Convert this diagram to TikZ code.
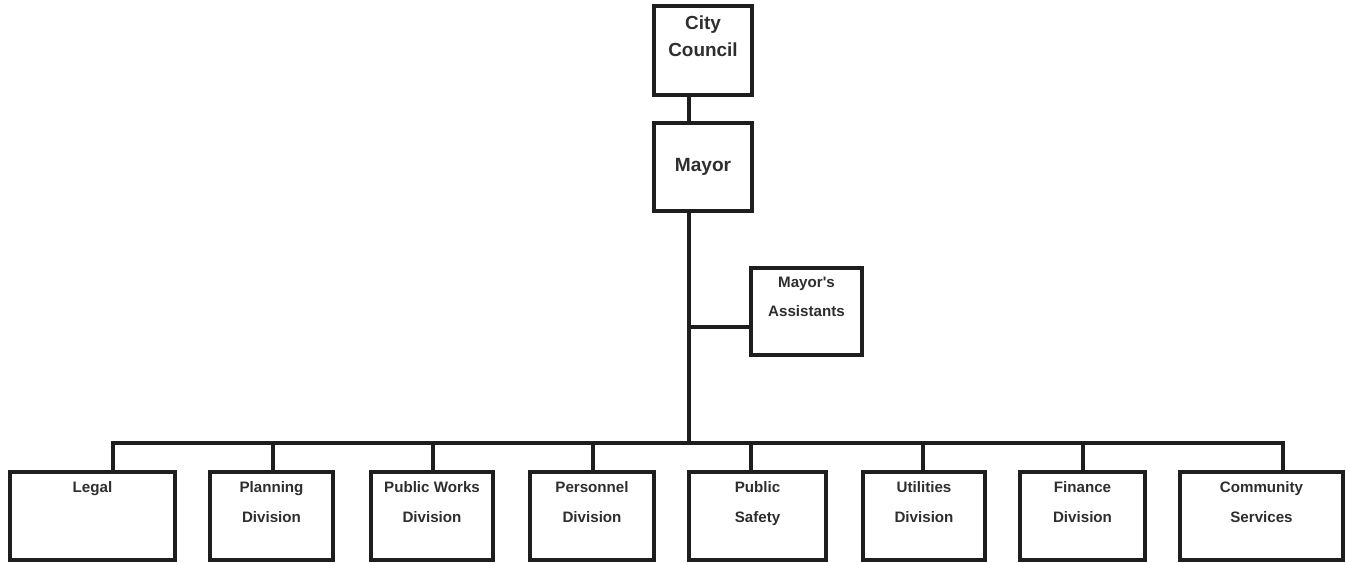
\documentclass[tikz,border=0pt]{standalone}
\usepackage{fontspec}
\setmainfont{Liberation Sans}
\usetikzlibrary{calc}
\definecolor{inkline}{HTML}{1E1E1E}
\definecolor{inktext}{HTML}{2E2E2E}
\begin{document}
\begin{tikzpicture}[x=1bp,y=-1bp,line width=3.2bp,line cap=rect,
                        box/.style={draw=inkline,inner sep=0pt,minimum height=88bp,
                            text=inktext,font=\bfseries\fontsize{19.2}{27}\selectfont},
                        toplbl/.style={anchor=north,inner sep=0pt,yshift=-9.5bp,align=center,
                            text=inktext,font=\bfseries\fontsize{19}{27}\selectfont},
                        sublbl/.style={anchor=north,inner sep=0pt,yshift=-9.5bp,align=center,
                            text=inktext,font=\bfseries\fontsize{15.2}{30.5}\selectfont}]
                        \useasboundingbox (0,0) rectangle (1346,563);
                        \node[box,minimum width=98bp,minimum height=89bp,
                            label={[toplbl]north:{City\\Council}}] (council) at (703,50.5) {};
                        \node[box,minimum width=98bp] (mayor) at (703,167) {Mayor};
                        \node[box,minimum width=111bp,minimum height=87bp,
                            label={[sublbl,font=\bfseries\fontsize{15.2}{29}\selectfont]north:{Mayor\textquotesingle s\\Assistants}}]
                            (assist) at (806.5,311.5) {};
                        \coordinate (trunk) at ([xshift=-14bp]mayor.south);
                        \coordinate (busL) at (113,443);
                        \coordinate (busR) at (1283,443);
                        \draw[inkline] ([xshift=-14bp]council.south) -- ([xshift=-14bp]mayor.north);
                        \draw[inkline] (trunk) -- (trunk |- busL);
                        \draw[inkline] (busL) -- (busR);
                        \draw[inkline] ([yshift=-15.5bp]assist.west) -- ([yshift=-15.5bp]assist.west -| trunk);
                        \foreach \name/\cx/\w/\dx/\txt in {legal/92.5/165/20.5/{Legal},
                            planning/271.5/123/1.5/{Planning\\Division},
                            works/432/122/1/{Public Works\\Division},
                            personnel/592/124/1/{Personnel\\Division},
                            safety/757.5/137/-6.5/{Public\\Safety},
                            utilities/924/122/-1/{Utilities\\Division},
                            finance/1082.5/125/0.5/{Finance\\Division},
                            community/1261.5/163/21.5/{Community\\Services}}{
                            \node[box,minimum width=\w bp,label={[sublbl]north:{\txt}}] (\name) at (\cx,516) {};
                            \draw[inkline] ([xshift=\dx bp]\name.north) -- ([xshift=\dx bp]\name.north |- busL);
                        }
                    \end{tikzpicture}
\end{document}
